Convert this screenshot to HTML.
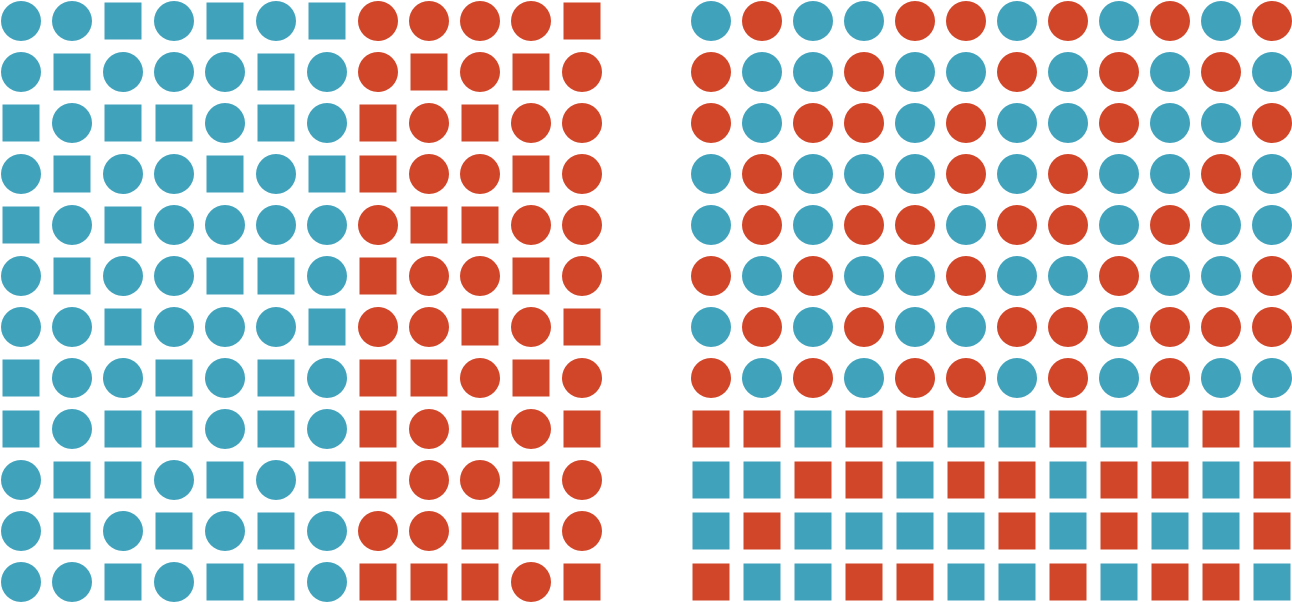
<!DOCTYPE html>
<html><head><meta charset="utf-8">
<style>
html,body{margin:0;padding:0;background:#fff;width:1292px;height:602px;overflow:hidden}
svg{display:block}
</style></head>
<body>
<svg id="chart" width="1292" height="602" viewBox="0 0 1292 602">
<g id="left"></g>
<g id="right"></g>
</svg>
<script>
// Left grid: shapes per row (c=circle, s=square); colors per row (b=blue, r=red)
const leftShapes = [
"ccscscsccccs",
"cscccsccscsc",
"scsscscscscc",
"csccscssccsc",
"scscccccsscc",
"csccsscsccsc",
"ccscccsccscs",
"sccscscsscsc",
"scsscscscscs",
"csscscssccsc",
"cscscscccssc",
"ccscsscssscs"
];
const leftColors = Array(12).fill("bbbbbbbrrrrr");
// Right grid
const rightShapes = [
"cccccccccccc","cccccccccccc","cccccccccccc","cccccccccccc",
"cccccccccccc","cccccccccccc","cccccccccccc","cccccccccccc",
"ssssssssssss","ssssssssssss","ssssssssssss","ssssssssssss"
];
const rightColors = [
"brbbrrbrbrbr",
"rbbrbbrbrbrb",
"rbrrbrbbrbbr",
"brbbbrbrbbrb",
"brbrrbrrbrbb",
"rbrbbrbbrbbr",
"brbrbbrrbrrr",
"rbrbrrbrbrbb",
"rrbrrbbrbbrb",
"bbrrbrrbrrbr",
"brbbbbrbrbbr",
"rbbrrbbrbrrb"
];
const COLORS = {b:"#41a2bc", r:"#d14529"};
const NS = "http://www.w3.org/2000/svg";
function draw(gid, shapes, colors, x0, side){
  const g = document.getElementById(gid);
  const pitch = 51;
  for(let r=0;r<shapes.length;r++){
    for(let c=0;c<shapes[r].length;c++){
      const cx = x0 + c*pitch, cy = 21 + r*pitch;
      const fill = COLORS[colors[r][c]];
      let el;
      if(shapes[r][c]==='c'){
        el = document.createElementNS(NS,'circle');
        el.setAttribute('cx',cx); el.setAttribute('cy',cy); el.setAttribute('r',20);
      } else {
        el = document.createElementNS(NS,'rect');
        el.setAttribute('x',cx-18.5); el.setAttribute('y',cy-18.5);
        el.setAttribute('width',37); el.setAttribute('height',37);
      }
      el.setAttribute('fill',fill);
      
      
      g.appendChild(el);
    }
  }
}
draw('left', leftShapes, leftColors, 21, 'left');
draw('right', rightShapes, rightColors, 711, 'right');
</script>
</body></html>
